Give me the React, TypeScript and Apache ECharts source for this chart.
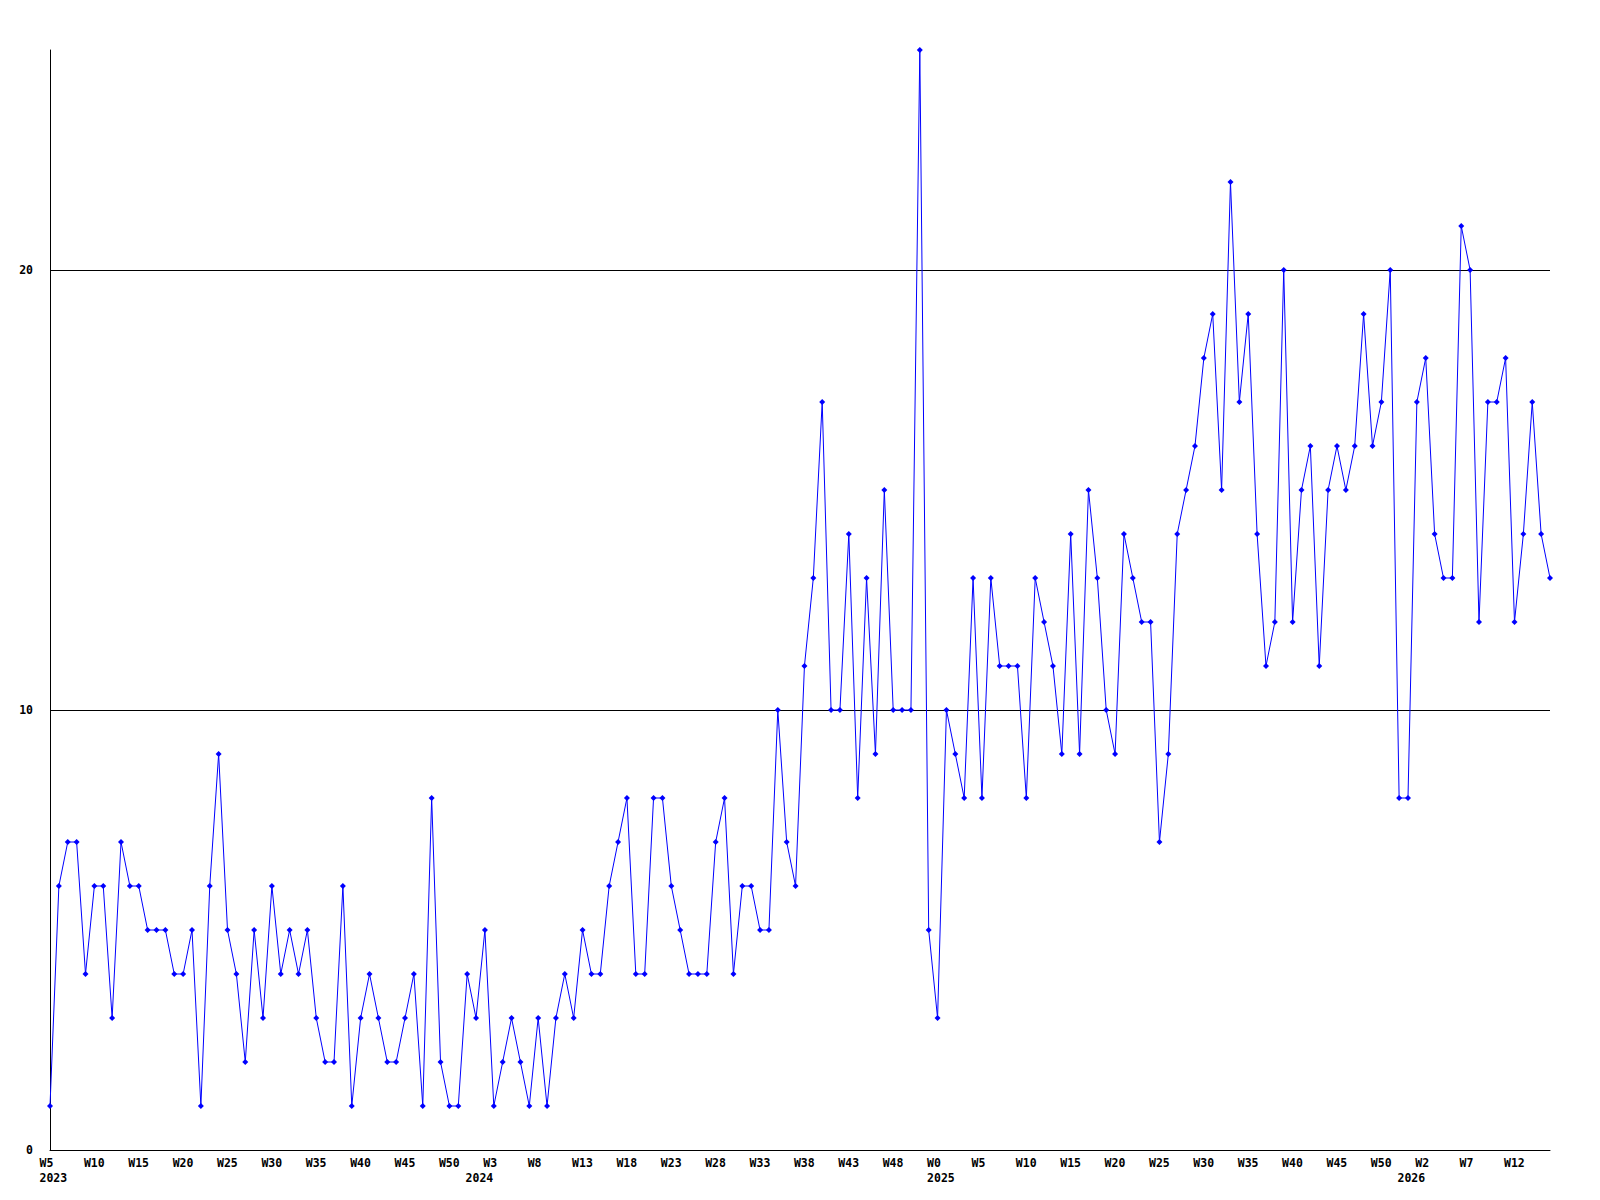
import React, { useEffect, useRef } from "react";
import * as echarts from "echarts";

// Years covered and the week numbers present in each year
const years = [2023, 2024, 2025, 2026];
const weekStart = [5, 1, 0, 0];
const weekEnd = [52, 52, 52, 16];

// Weekly values
const values2023 = [1, 6, 7, 7, 4, 6, 6, 3, 7, 6, 6, 5, 5, 5, 4, 4, 5, 1, 6, 9, 5, 4, 2, 5, 3, 6, 4, 5, 4, 5, 3, 2, 2, 6, 1, 3, 4, 3, 2, 2, 3, 4, 1, 8, 2, 1, 1, 4];
const values2024 = [3, 5, 1, 2, 3, 2, 1, 3, 1, 3, 4, 3, 5, 4, 4, 6, 7, 8, 4, 4, 8, 8, 6, 5, 4, 4, 4, 7, 8, 4, 6, 6, 5, 5, 10, 7, 6, 11, 13, 17, 10, 10, 14, 8, 13, 9, 15, 10, 10, 10, 25, 5];
const values2025 = [3, 10, 9, 8, 13, 8, 13, 11, 11, 11, 8, 13, 12, 11, 9, 14, 9, 15, 13, 10, 9, 14, 13, 12, 12, 7, 9, 14, 15, 16, 18, 19, 15, 22, 17, 19, 14, 11, 12, 20, 12, 15, 16, 11, 15, 16, 15, 16, 19, 16, 17, 20, 8];
const values2026 = [8, 17, 18, 14, 13, 13, 21, 20, 12, 17, 17, 18, 12, 14, 17, 14, 13];

const yTickLabels = [0, 10, 20];

const FONT = "'DejaVu Sans Mono', 'Liberation Mono', monospace";

export default function App() {
  const ref = useRef<HTMLDivElement>(null);

  useEffect(() => {
    if (!ref.current) return;
    const chart = echarts.init(ref.current, undefined, { renderer: "svg" });

    const categories: string[] = [];
    const weekLabel: string[] = [];
    const yearOfIndex: number[] = [];
    const yearStartIdx: number[] = [];
    years.forEach((y, k) => {
      yearStartIdx.push(categories.length);
      for (let w = weekStart[k]; w <= weekEnd[k]; w++) {
        categories.push(y + "-W" + w);
        weekLabel.push("W" + w);
        yearOfIndex.push(y);
      }
    });
    const data = [...values2023, ...values2024, ...values2025, ...values2026];

    const isShown = (i: number) => i % 5 === 0 || yearStartIdx.includes(i);

    chart.setOption({
      animation: false,
      backgroundColor: "#ffffff",
      grid: { left: 50, right: 50, top: 50, bottom: 50, containLabel: false },
      xAxis: {
        type: "category",
        data: categories,
        boundaryGap: false,
        axisLine: { show: true, lineStyle: { color: "#000", width: 1 } },
        axisTick: { show: false },
        splitLine: { show: false },
        axisLabel: {
          interval: (i: number) => isShown(i),
          margin: 5,
          align: "left",
          padding: [0, 0, 0, -10.5],
          lineHeight: 15,
          color: "#000",
          fontFamily: FONT,
          fontWeight: "bold",
          fontSize: 11.5,
          formatter: (_v: string, i: number) => {
            let s = i % 5 === 0 ? weekLabel[i] : "";
            if (yearStartIdx.includes(i)) s += "\n" + yearOfIndex[i];
            return s;
          },
        },
      },
      yAxis: {
        type: "value",
        min: 0,
        max: 25,
        interval: 10,
        axisLine: { show: true, lineStyle: { color: "#000", width: 1 } },
        axisTick: { show: false },
        splitLine: {
          show: true,
          lineStyle: { color: ["#000", "#000", "#000", "rgba(0,0,0,0)"], width: 1 },
        },
        axisLabel: {
          showMaxLabel: false,
          margin: 17,
          color: "#000",
          fontFamily: FONT,
          fontWeight: "bold",
          fontSize: 11.5,
          formatter: (v: number) => (yTickLabels.includes(v) ? String(v) : ""),
        },
      },
      series: [
        {
          type: "line",
          data,
          symbol: "diamond",
          symbolSize: 6,
          showSymbol: true,
          showAllSymbol: true,
          itemStyle: { color: "#0000ff" },
          lineStyle: { color: "#0000ff", width: 1 },
          emphasis: { disabled: true },
        },
      ],
    });

    return () => chart.dispose();
  }, []);

  return (
    <div
      ref={ref}
      style={{ position: "absolute", left: 0, top: 0, width: 1600, height: 1200 }}
    />
  );
}
